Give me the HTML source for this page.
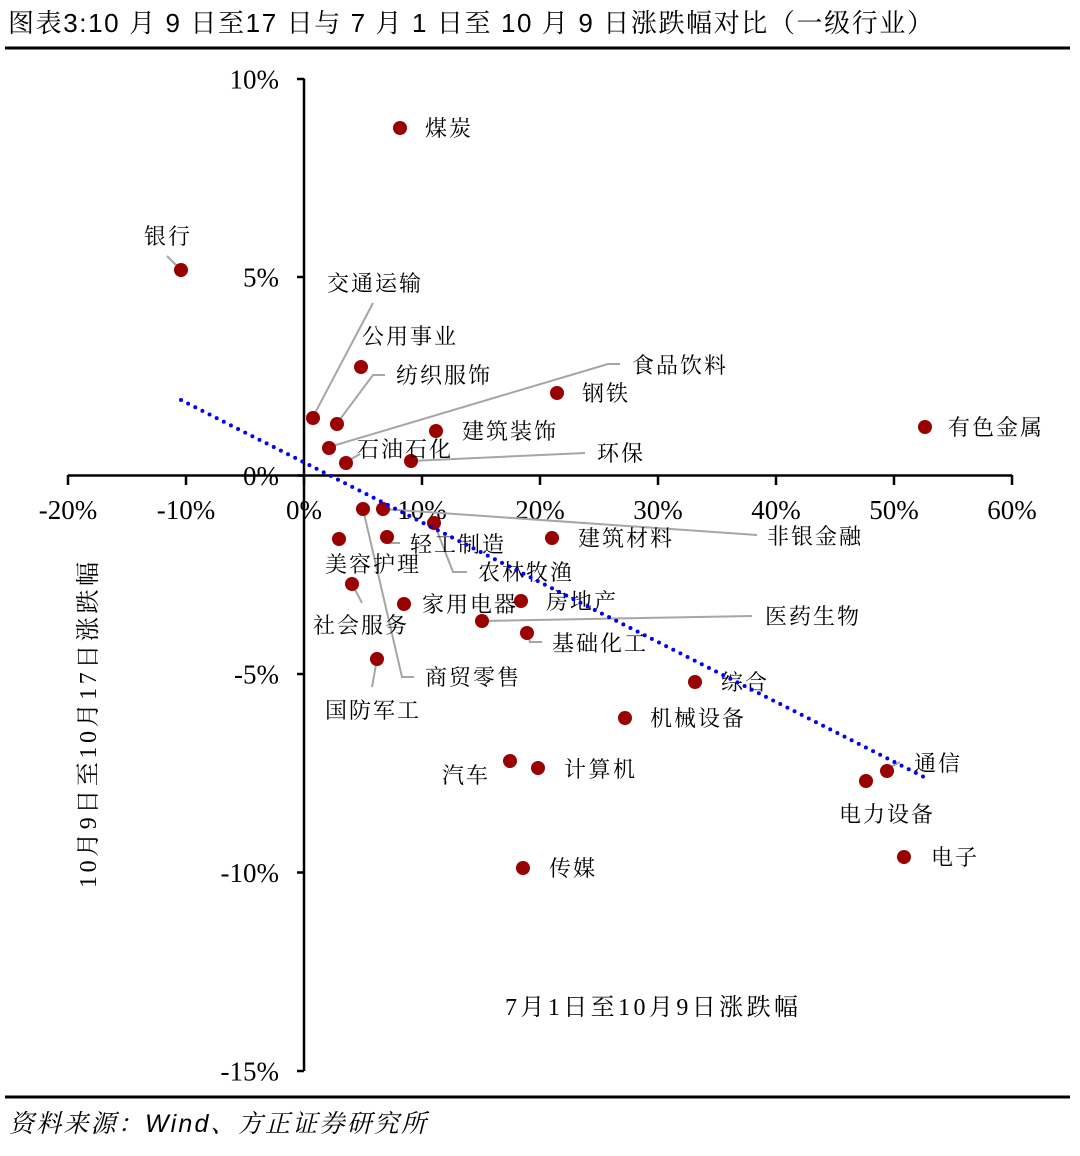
<!DOCTYPE html>
<html>
<head>
<meta charset="utf-8">
<style>
html,body{margin:0;padding:0;background:#fff;}
svg{display:block;}
.t{font-family:"Liberation Serif","Noto Serif CJK SC",serif;font-size:27px;fill:#000;}
.l{font-family:"Liberation Serif","Noto Serif CJK SC",serif;font-size:22px;fill:#000;}
.ld{stroke:#a6a6a6;stroke-width:2;fill:none;}
.d{fill:#990000;}
</style>
</head>
<body>
<svg width="1080" height="1156" viewBox="0 0 1080 1156" xmlns="http://www.w3.org/2000/svg">
<rect x="0" y="0" width="1080" height="1156" fill="#fff"/>

<!-- Title -->
<text x="8" y="32" font-family="Liberation Sans, Noto Serif CJK SC, sans-serif" font-size="26" textLength="925" lengthAdjust="spacing">图表3:10 月 9 日至17 日与 7 月 1 日至 10 月 9 日涨跌幅对比（一级行业）</text>
<rect x="5" y="46.5" width="1065" height="3" fill="#000"/>

<!-- Axes -->
<line x1="68" y1="475.5" x2="1012" y2="475.5" stroke="#000" stroke-width="2.5"/>
<g stroke="#000" stroke-width="2.5">
<line x1="68" y1="475" x2="68" y2="485"/>
<line x1="186" y1="475" x2="186" y2="485"/>
<line x1="304" y1="475" x2="304" y2="485"/>
<line x1="422" y1="475" x2="422" y2="485"/>
<line x1="540" y1="475" x2="540" y2="485"/>
<line x1="658" y1="475" x2="658" y2="485"/>
<line x1="776" y1="475" x2="776" y2="485"/>
<line x1="894" y1="475" x2="894" y2="485"/>
<line x1="1012" y1="475" x2="1012" y2="485"/>
</g>
<line x1="304" y1="78.5" x2="304" y2="1071" stroke="#000" stroke-width="2.5"/>
<g stroke="#000" stroke-width="2.5">
<line x1="297" y1="79" x2="304" y2="79"/>
<line x1="297" y1="277" x2="304" y2="277"/>
<line x1="297" y1="475.5" x2="304" y2="475.5"/>
<line x1="297" y1="674" x2="304" y2="674"/>
<line x1="297" y1="872.5" x2="304" y2="872.5"/>
<line x1="297" y1="1071" x2="304" y2="1071"/>
</g>

<!-- X tick labels -->
<g class="t" text-anchor="middle">
<text x="68" y="519">-20%</text>
<text x="186" y="519">-10%</text>
<text x="304" y="519">0%</text>
<text x="422" y="519">10%</text>
<text x="540" y="519">20%</text>
<text x="658" y="519">30%</text>
<text x="776" y="519">40%</text>
<text x="894" y="519">50%</text>
<text x="1012" y="519">60%</text>
</g>
<!-- Y tick labels -->
<g class="t" text-anchor="end">
<text x="279" y="88.5">10%</text>
<text x="279" y="286.5">5%</text>
<text x="279" y="485">0%</text>
<text x="279" y="683.5">-5%</text>
<text x="279" y="882">-10%</text>
<text x="279" y="1080.5">-15%</text>
</g>

<!-- Axis titles -->
<text x="505" y="1015" font-family="Liberation Serif, Noto Serif CJK SC, serif" font-size="24" textLength="293" lengthAdjust="spacing">7月1日至10月9日涨跌幅</text>
<text transform="translate(88,725) rotate(-90)" x="0" y="8" text-anchor="middle" font-family="Liberation Serif, Noto Serif CJK SC, serif" font-size="24" textLength="326" lengthAdjust="spacing">10月9日至10月17日涨跌幅</text>

<!-- Leader lines -->
<polyline class="ld" points="167,256 178,267"/>
<polyline class="ld" points="373,303 314,415"/>
<polyline class="ld" points="385,375 373,375 338,422"/>
<polyline class="ld" points="329,447 608,364 620,364"/>
<polyline class="ld" points="348,461 360,454"/>
<polyline class="ld" points="411,461 585,453"/>
<polyline class="ld" points="383,509 757,535"/>
<polyline class="ld" points="363,509 402,677 414,677"/>
<polyline class="ld" points="434,523 453,572 467,572"/>
<polyline class="ld" points="388,538 388,543 400,543"/>
<polyline class="ld" points="352,584 362,603"/>
<polyline class="ld" points="482,621 752,616"/>
<polyline class="ld" points="527,633 530,642 542,642"/>
<polyline class="ld" points="377,659 372,687"/>
<polyline class="ld" points="887,769 900,762"/>

<!-- Dots -->
<g class="d">
<circle cx="400" cy="128" r="7"/>
<circle cx="181" cy="270" r="7"/>
<circle cx="313" cy="418" r="7"/>
<circle cx="361" cy="367" r="7"/>
<circle cx="337" cy="424" r="7"/>
<circle cx="329" cy="448" r="7"/>
<circle cx="346" cy="463" r="7"/>
<circle cx="411" cy="461" r="7"/>
<circle cx="436" cy="431" r="7"/>
<circle cx="557" cy="393" r="7"/>
<circle cx="925" cy="427" r="7"/>
<circle cx="383" cy="509" r="7"/>
<circle cx="363" cy="509" r="7"/>
<circle cx="434" cy="523" r="7"/>
<circle cx="339" cy="539" r="7"/>
<circle cx="387" cy="537" r="7"/>
<circle cx="552" cy="538" r="7"/>
<circle cx="352" cy="584" r="7"/>
<circle cx="404" cy="604" r="7"/>
<circle cx="521" cy="601" r="7"/>
<circle cx="482" cy="621" r="7"/>
<circle cx="527" cy="633" r="7"/>
<circle cx="377" cy="659" r="7"/>
<circle cx="625" cy="718" r="7"/>
<circle cx="695" cy="682" r="7"/>
<circle cx="510" cy="761" r="7"/>
<circle cx="538" cy="768" r="7"/>
<circle cx="523" cy="868" r="7"/>
<circle cx="887" cy="771" r="7"/>
<circle cx="866" cy="781" r="7"/>
<circle cx="904" cy="857" r="7"/>
</g>

<!-- Labels -->
<g class="l" lengthAdjust="spacing">
<text x="425" y="136" textLength="46">煤炭</text>
<text x="144" y="244" textLength="46">银行</text>
<text x="327" y="291" textLength="94">交通运输</text>
<text x="362" y="344" textLength="94">公用事业</text>
<text x="396" y="383" textLength="94">纺织服饰</text>
<text x="632" y="373" textLength="94">食品饮料</text>
<text x="357" y="457" textLength="94">石油石化</text>
<text x="597" y="461" textLength="46">环保</text>
<text x="462" y="439" textLength="94">建筑装饰</text>
<text x="582" y="401" textLength="46">钢铁</text>
<text x="948" y="435" textLength="94">有色金属</text>
<text x="767" y="544" textLength="94">非银金融</text>
<text x="425" y="685" textLength="94">商贸零售</text>
<text x="478" y="580" textLength="94">农林牧渔</text>
<text x="325" y="572" textLength="94">美容护理</text>
<text x="410" y="552" textLength="94">轻工制造</text>
<text x="578" y="546" textLength="94">建筑材料</text>
<text x="313" y="633" textLength="94">社会服务</text>
<text x="422" y="612" textLength="94">家用电器</text>
<text x="546" y="609" textLength="70">房地产</text>
<text x="765" y="624" textLength="94">医药生物</text>
<text x="552" y="651" textLength="94">基础化工</text>
<text x="325" y="718" textLength="94">国防军工</text>
<text x="650" y="726" textLength="94">机械设备</text>
<text x="721" y="690" textLength="46">综合</text>
<text x="442" y="783" textLength="46">汽车</text>
<text x="564" y="777" textLength="71">计算机</text>
<text x="549" y="876" textLength="46">传媒</text>
<text x="914" y="771" textLength="46">通信</text>
<text x="839" y="822" textLength="94">电力设备</text>
<text x="931" y="865" textLength="46">电子</text>
</g>

<!-- Trend line -->
<line x1="181" y1="400" x2="926" y2="778" stroke="#0000ff" stroke-width="4" stroke-linecap="round" stroke-dasharray="0 8"/>

<!-- Source -->
<rect x="5" y="1095.5" width="1065" height="3" fill="#000"/>
<text x="9" y="1132" font-family="Liberation Sans, Noto Serif CJK SC, serif" font-size="25" font-style="italic" textLength="417" lengthAdjust="spacing">资料来源：Wind、方正证券研究所</text>
</svg>
</body>
</html>
